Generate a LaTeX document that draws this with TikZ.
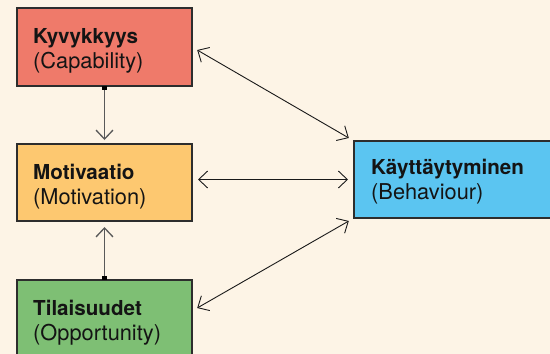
\documentclass[tikz,border=0pt]{standalone}
\usepackage{fontspec}
\setmainfont{TeX Gyre Heros}
\usetikzlibrary{calc,arrows.meta}
\definecolor{bgcream}{RGB}{253,244,230}
\definecolor{capred}{RGB}{239,122,106}
\definecolor{motorange}{RGB}{253,200,112}
\definecolor{oppgreen}{RGB}{126,191,116}
\definecolor{behblue}{RGB}{91,197,241}
\definecolor{boxline}{RGB}{45,45,45}
\newcommand{\engl}[1]{{\fontsize{21.8}{25}\selectfont #1}}

\begin{document}
\begin{tikzpicture}[x=1pt, y=-1pt,
  box/.style={draw=boxline, line width=1.2pt, minimum width=175pt, minimum height=78pt, inner sep=0pt, outer sep=0pt},
  lbl/.style={align=left, anchor=north west, inner sep=0pt, font=\fontsize{20.6}{25}\selectfont, text=black!92},
  link/.style={{Straight Barb[length=9pt,width=17pt]}-{Straight Barb[length=9pt,width=17pt]}, line width=0.9pt, black!90, shorten <=6pt, shorten >=6pt},
  vlink/.style={{Square[length=4pt,width=4.5pt,color=black]}-{Straight Barb[length=9pt,width=17pt]}, line width=1.3pt, black!65}]
\useasboundingbox (0,0) rectangle (550,354);
\fill[bgcream] (0,0) rectangle (550,354);
\clip (0,0) rectangle (550,354);

\node[box, fill=capred] (kyv) at (104.5,47) {};
\node[box, fill=motorange, minimum height=77pt] (mot) at (104.5,182.5) {};
\node[box, fill=oppgreen] (til) at (104.5,319) {};
\node[box, fill=behblue, minimum width=210pt, minimum height=77pt] (kay) at (459,179.5) {};

\node[lbl] (kyvT) at ($(kyv.north west)+(16,20)$) {\textbf{Kyvykkyys}\\\engl{(Capability)}};
\node[lbl] (motT) at ($(mot.north west)+(16,20)$) {\textbf{Motivaatio}\\\engl{(Motivation)}};
\node[lbl] (tilT) at ($(til.north west)+(16,20)$) {\textbf{Tilaisuudet}\\\engl{(Opportunity)}};
\node[lbl] (kayT) at ($(kay.north west)+(17,18)$) {\textbf{Käyttäytyminen}\\\engl{(Behaviour)}};

\coordinate (tilR) at ($(til.north east)+(0,31)$);

\draw[vlink, shorten >=4pt] (kyv.south) -- (mot.north);
\draw[vlink, shorten >=6pt] (til.north) -- (mot.south);

\draw[link] (kyv.east) -- (kay.north west);
\draw[link] (mot.east |- kay.west) -- (kay.west);
\draw[link] (tilR) -- (kay.south west);

\end{tikzpicture}
\end{document}
